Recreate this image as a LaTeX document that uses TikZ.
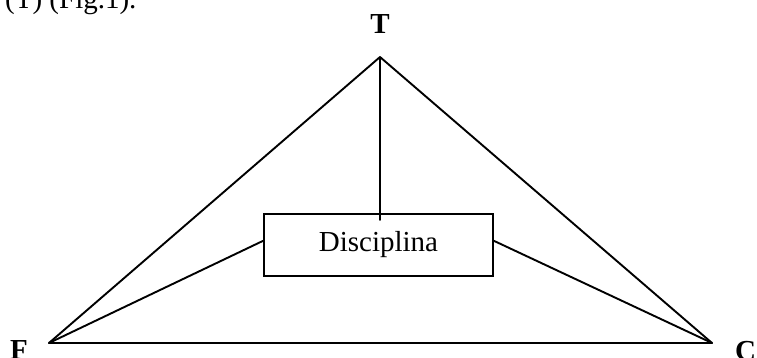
\documentclass[tikz,border=0pt]{standalone}
\usepackage{fontspec}
\setmainfont{Liberation Serif}
\usetikzlibrary{calc}
\begin{document}
\begin{tikzpicture}[x=1pt,y=-1pt,
  edge/.style={line width=1.9pt,line cap=round,line join=round},
  lbl/.style={inner sep=0pt,font=\fontsize{29}{34}\selectfont},
  boxst/.style={draw,line width=1.9pt,inner sep=0pt,minimum width=229pt,minimum height=62pt,font=\fontsize{29}{34}\selectfont}]
\useasboundingbox (0,0) rectangle (757,358);
\node[lbl,anchor=base west] (cap) at (5,9) {(T) (Fig.1).};
\coordinate (T) at (380,57);
\coordinate (F) at (49,343);
\coordinate (C) at (712,343);
\node[boxst] (box) at (378.5,245) {Disciplina};
\coordinate (bl) at ($(box.north west)!0.435!(box.south west)$);
\coordinate (br) at ($(box.north east)!0.435!(box.south east)$);
\coordinate (tin) at (380,220);
\node[lbl,anchor=base] (tl) at (380,34) {\textbf{T}};
\node[lbl,anchor=base west] (fl) at (10,359) {\textbf{F}};
\node[lbl,anchor=base west] (cl) at (735,360) {\textbf{C}};
\draw[edge] (F) -- (T) -- (C) -- cycle;
\draw[edge] (T) -- (tin);
\draw[edge] (F) -- (bl);
\draw[edge] (C) -- (br);
\end{tikzpicture}
\end{document}
